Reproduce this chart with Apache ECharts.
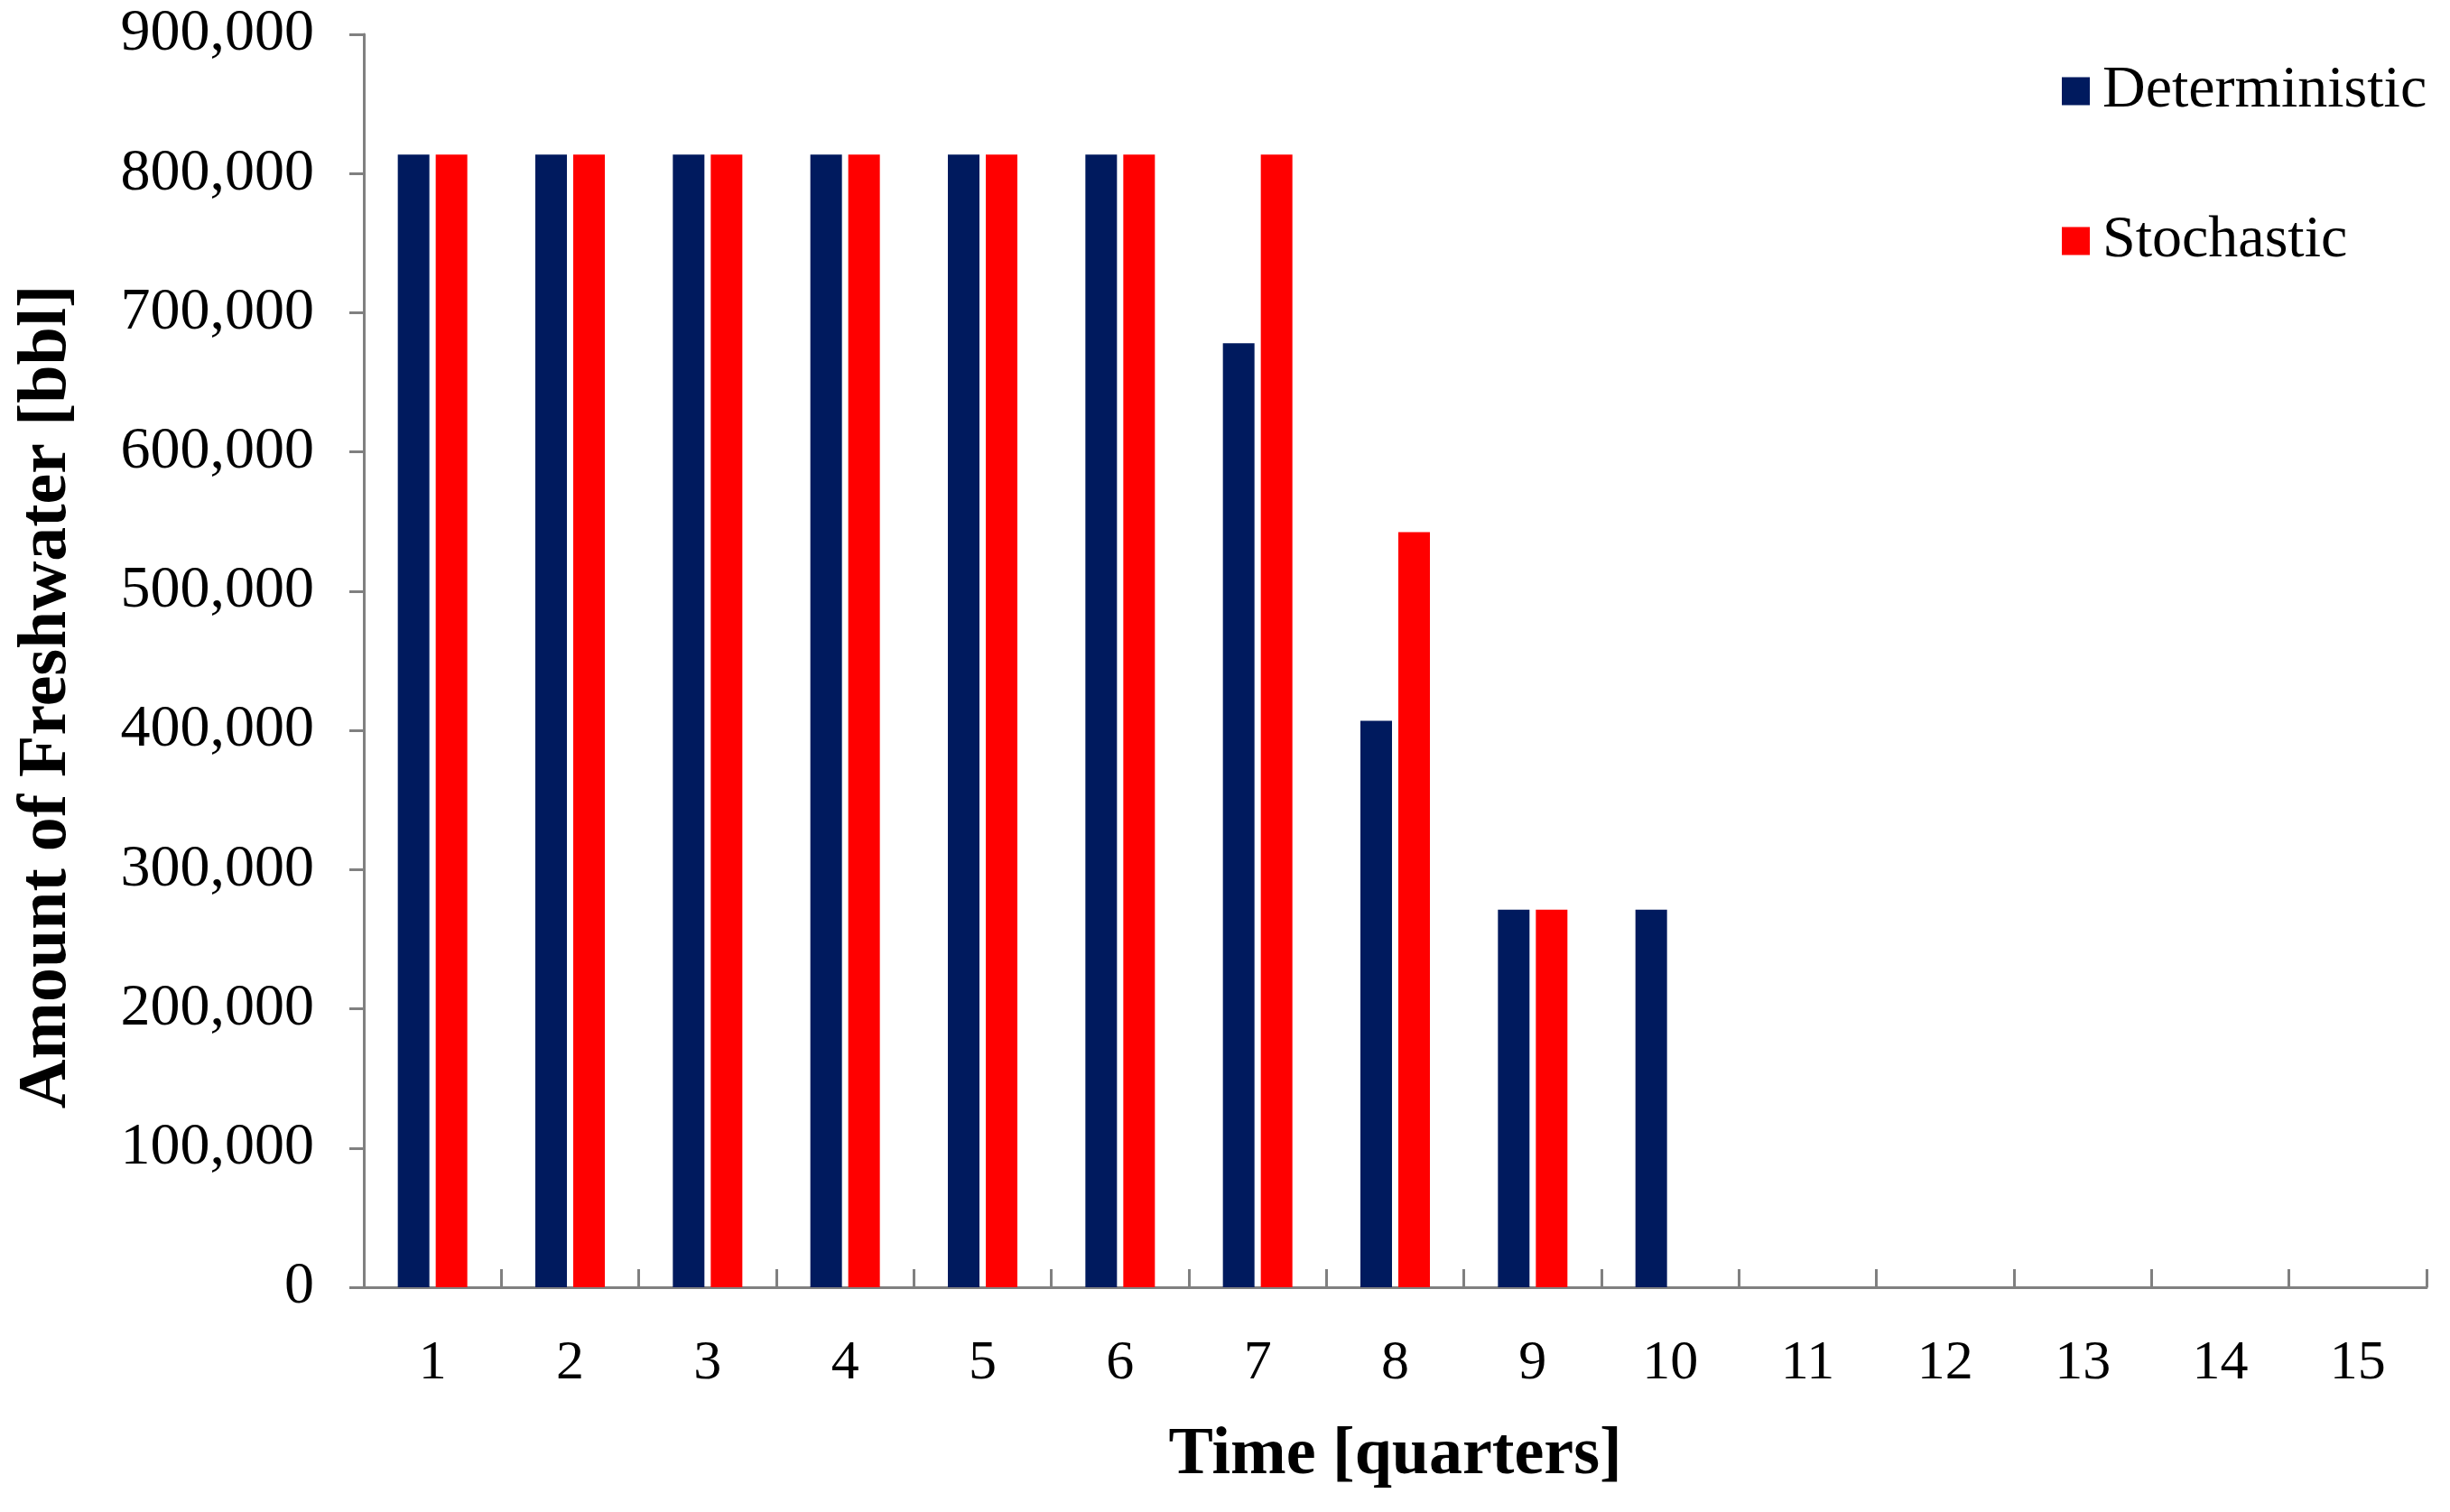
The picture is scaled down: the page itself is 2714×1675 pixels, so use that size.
<!DOCTYPE html>
<html>
<head>
<meta charset="utf-8">
<script src="https://cdn.jsdelivr.net/npm/echarts@6/dist/echarts.min.js"></script>
<style>
  html, body { margin: 0; padding: 0; background: #ffffff; }
  #chart { width: 2714px; height: 1675px; }
</style>
</head>
<body>
<div id="chart"></div>
<script>
// ---- Data ----
const categories = ['1','2','3','4','5','6','7','8','9','10','11','12','13','14','15'];
const deterministic = [813600, 813600, 813600, 813600, 813600, 813600, 678000, 406800, 271200, 271200, 0, 0, 0, 0, 0];
const stochastic    = [813600, 813600, 813600, 813600, 813600, 813600, 813600, 542400, 271200, 0, 0, 0, 0, 0, 0];
const seriesNames = ['Deterministic', 'Stochastic'];
const yTicks = { min: 0, max: 900000, interval: 100000 };

const FONT = '"Liberation Serif", "Times New Roman", serif';
const chart = echarts.init(document.getElementById('chart'));

chart.setOption({
  backgroundColor: '#ffffff',
  animation: false,
  grid: { left: 403, right: 26, top: 38, bottom: 249, containLabel: false },
  legend: {
    orient: 'vertical',
    left: 2279,
    top: 63,
    itemWidth: 31,
    itemHeight: 31,
    itemGap: 100,
    icon: 'rect',
    data: seriesNames,
    textStyle: { fontFamily: FONT, fontSize: 66, color: '#000', padding: [0, 0, 0, 9] }
  },
  xAxis: {
    type: 'category',
    data: categories,
    name: 'Time [quarters]',
    nameLocation: 'middle',
    nameGap: 150,
    nameTextStyle: { fontFamily: FONT, fontSize: 74, fontWeight: 'bold', color: '#000' },
    axisLine: { show: true, lineStyle: { color: '#808080', width: 3 } },
    axisTick: { show: true, inside: true, length: 20, lineStyle: { color: '#808080', width: 3 } },
    axisLabel: { fontFamily: FONT, fontSize: 62, color: '#000', margin: 54 },
    splitLine: { show: false }
  },
  yAxis: {
    type: 'value',
    min: yTicks.min,
    max: yTicks.max,
    interval: yTicks.interval,
    name: 'Amount of Freshwater [bbl]',
    nameLocation: 'middle',
    nameGap: 313,
    nameTextStyle: { fontFamily: FONT, fontSize: 76, fontWeight: 'bold', color: '#000', padding: [0, 80, 0, 0] },
    axisLine: { show: true, lineStyle: { color: '#808080', width: 3 } },
    axisTick: { show: true, inside: false, length: 16, lineStyle: { color: '#808080', width: 3 } },
    axisLabel: {
      fontFamily: FONT, fontSize: 66, color: '#000', margin: 55,
      formatter: v => v.toLocaleString('en-US')
    },
    splitLine: { show: false }
  },
  series: [
    {
      name: seriesNames[0],
      type: 'bar',
      data: deterministic,
      barWidth: 35,
      barGap: '20%',
      itemStyle: { color: '#001A5E' }
    },
    {
      name: seriesNames[1],
      type: 'bar',
      data: stochastic,
      barWidth: 35,
      barGap: '20%',
      itemStyle: { color: '#FF0000' }
    }
  ]
});
</script>
</body>
</html>
